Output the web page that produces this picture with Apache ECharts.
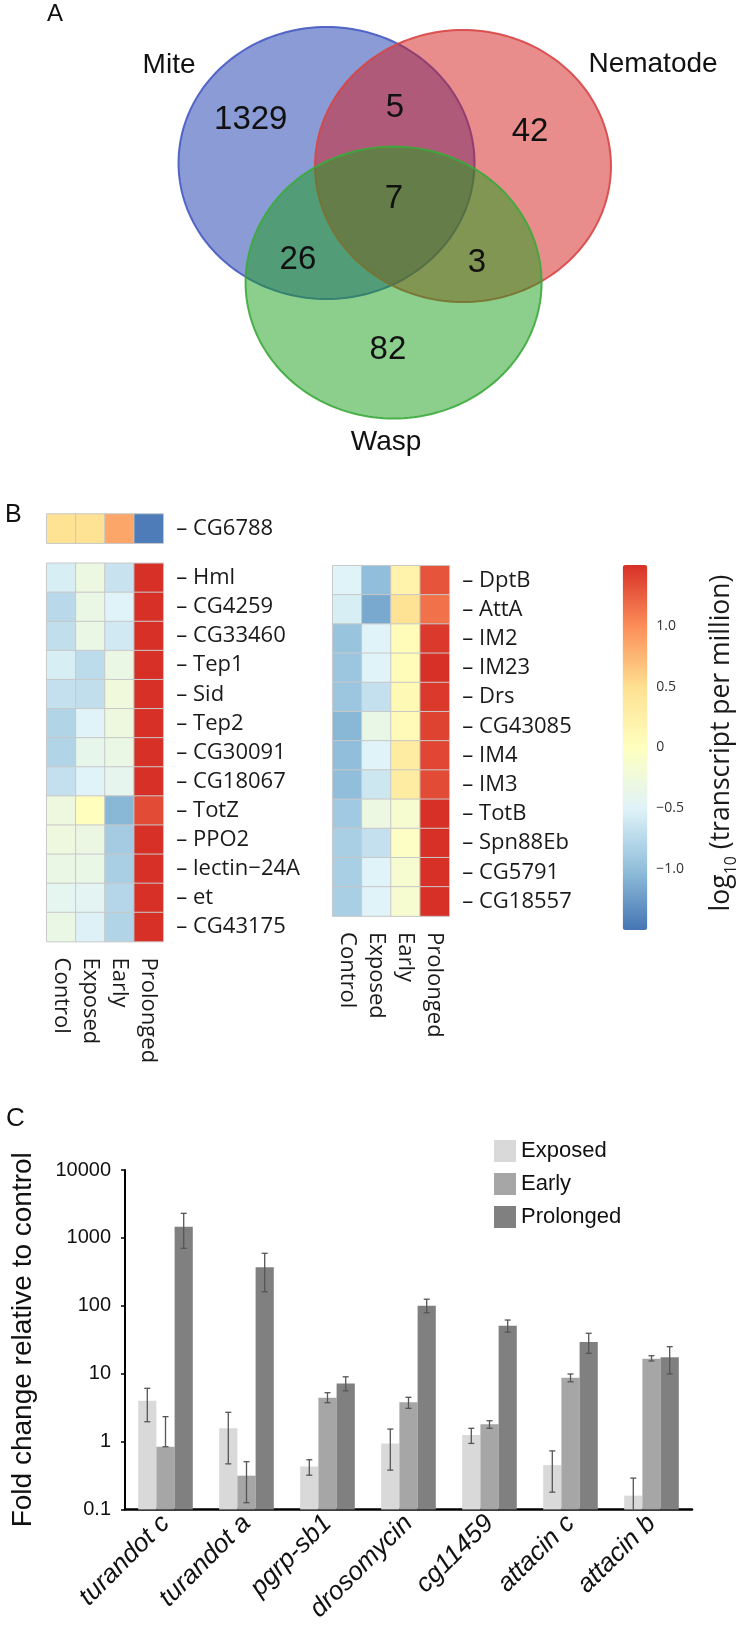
<!DOCTYPE html>
<html>
<head>
<meta charset="utf-8">
<script src="https://cdn.jsdelivr.net/npm/echarts@6/dist/echarts.min.js"></script>
<style>html,body{margin:0;padding:0;background:#fff}#c{width:745px;height:1633px}</style>
</head>
<body>
<div id="c"></div>
<script>
// ---------- Panel A data ----------
const vennSets = ['Mite', 'Nematode', 'Wasp'];
const vennRegionNames = ['Mite only', 'Mite & Nematode', 'Nematode only', 'All three', 'Mite & Wasp', 'Nematode & Wasp', 'Wasp only'];
const vennRegionCounts = [1329, 5, 42, 7, 26, 3, 82];
// layout geometry (abstract units, radius = 1)
const vennCenters = [[-0.461, 0.272], [0.461, 0.25], [-0.008, -0.607]];
const vennRegionPos = [[-0.973, 0.588], [0.002, 0.676], [0.914, 0.5], [-0.005, 0.007], [-0.654, -0.441], [0.556, -0.463], [-0.046, -1.103]];
const vennSetLabelPos = [[-1.525, 0.993], [1.745, 1.0], [-0.059, -1.78]];

// ---------- Panel B data ----------
const hmCols = ['Control', 'Exposed', 'Early', 'Prolonged'];
const topGenes = ['CG6788'];
const topVals = [[0.45, 0.45, 0.85, -1.45]];
const leftGenes = ['Hml', 'CG4259', 'CG33460', 'Tep1', 'Sid', 'Tep2', 'CG30091', 'CG18067', 'TotZ', 'PPO2', 'lectin\u221224A', 'et', 'CG43175'];
const leftVals = [
  [-0.55, -0.3, -0.65, 1.5],
  [-0.75, -0.33, -0.5, 1.5],
  [-0.7, -0.33, -0.6, 1.5],
  [-0.55, -0.72, -0.33, 1.5],
  [-0.68, -0.7, -0.25, 1.5],
  [-0.8, -0.5, -0.28, 1.5],
  [-0.8, -0.38, -0.33, 1.5],
  [-0.68, -0.5, -0.4, 1.5],
  [-0.28, 0.02, -1.05, 1.35],
  [-0.28, -0.32, -0.88, 1.5],
  [-0.33, -0.35, -0.85, 1.5],
  [-0.42, -0.45, -0.78, 1.5],
  [-0.33, -0.52, -0.8, 1.5]
];
const rightGenes = ['DptB', 'AttA', 'IM2', 'IM23', 'Drs', 'CG43085', 'IM4', 'IM3', 'TotB', 'Spn88Eb', 'CG5791', 'CG18557'];
const rightVals = [
  [-0.5, -1.0, 0.2, 1.3],
  [-0.55, -1.15, 0.45, 1.15],
  [-0.95, -0.5, 0.05, 1.45],
  [-0.93, -0.5, 0.07, 1.5],
  [-0.93, -0.68, 0.1, 1.45],
  [-1.05, -0.35, 0.08, 1.4],
  [-1.0, -0.5, 0.3, 1.38],
  [-1.0, -0.62, 0.3, 1.35],
  [-0.9, -0.3, -0.15, 1.5],
  [-0.85, -0.68, -0.05, 1.5],
  [-0.85, -0.5, -0.15, 1.5],
  [-0.85, -0.5, -0.15, 1.5]
];
const colorbarMin = -1.5, colorbarMax = 1.5, colorbarStep = 0.5;

// ---------- Panel C data ----------
const genesC = ['turandot c', 'turandot a', 'pgrp-sb1', 'drosomycin', 'cg11459', 'attacin c', 'attacin b'];
const seriesNames = ['Exposed', 'Early', 'Prolonged'];
const exposed = [4.0, 1.57, 0.43, 0.94, 1.25, 0.45, 0.16];
const exposedLo = [1.96, 0.47, 0.32, 0.38, 0.94, 0.18, 0.05];
const exposedHi = [6.1, 2.7, 0.54, 1.53, 1.57, 0.73, 0.29];
const early = [0.84, 0.315, 4.42, 3.79, 1.8, 8.7, 16.6];
const earlyLo = [0.84, 0.126, 3.74, 3.09, 1.57, 7.6, 15.4];
const earlyHi = [2.33, 0.506, 5.25, 4.49, 2.03, 9.9, 18.4];
const prolonged = [1460, 369, 7.2, 100, 51, 29.3, 17.5];
const prolongedLo = [703, 161, 5.6, 79, 41, 20, 9.9];
const prolongedHi = [2300, 593, 9.0, 125, 61.7, 39.4, 25];
const yTickMin = 0.1, yTickMax = 10000;
const yTitle = 'Fold change relative to control';

// ---------- styles ----------
const vennFill = ['rgba(21,55,173,0.5)', 'rgba(209,25,25,0.5)', 'rgba(25,159,25,0.5)'];
const vennStroke = ['rgba(70,90,195,0.9)', 'rgba(215,70,70,0.9)', 'rgba(60,170,60,0.9)'];
const rdylbu = ['#4575b4', '#91bfdb', '#e0f3f8', '#ffffbf', '#fee090', '#fc8d59', '#d73027'];
const barColors = ['#d9d9d9', '#a6a6a6', '#808080'];
const sansA = 'Liberation Sans';
const sansB = 'Open Sans';
const BAR_W = 18.2;
const HM_FONT = 22;

function toCells(vals) {
  const out = [];
  vals.forEach((row, r) => row.forEach((v, c) => out.push([c, r, v])));
  return out;
}
const fmtLog = v => String(+(+v).toPrecision(6));
const fmtCb = v => { const a = Math.round(v * 10) / 10; return a === 0 ? '0' : (a < 0 ? '\u2212' : '') + Math.abs(a).toFixed(1); };

const chart = echarts.init(document.getElementById('c'), null, { renderer: 'canvas' });

function hmYAxis(gi, data) {
  return {
    gridIndex: gi, type: 'category', data: data, inverse: true, position: 'right',
    axisLine: { show: false }, axisTick: { show: false },
    axisLabel: { show: true, margin: 13, align: 'left', fontFamily: sansB, fontSize: HM_FONT, color: '#1a1a1a', formatter: v => '\u2013 ' + v }
  };
}
function hmXAxis(gi, showLabels) {
  return {
    gridIndex: gi, type: 'category', data: hmCols, position: 'bottom',
    axisLine: { show: false }, axisTick: { show: false },
    axisLabel: { show: showLabels, rotate: -90, margin: 16, fontFamily: sansB, fontSize: HM_FONT, color: '#1a1a1a', interval: 0 }
  };
}

const errSets = [[exposedLo, exposedHi], [earlyLo, earlyHi], [prolongedLo, prolongedHi]];
const errSeries = errSets.map((pair, k) => ({
  type: 'custom', xAxisIndex: 5, yAxisIndex: 5, silent: true, z: 5,
  data: genesC.map((g, i) => [i, pair[0][i], pair[1][i]]),
  renderItem: function (params, api) {
    const i = api.value(0);
    const lo = Math.max(api.value(1), yTickMin), hi = api.value(2);
    const pHi = api.coord([i, hi]);
    const pLo = api.coord([i, lo]);
    const x = pHi[0] + (k - 1) * BAR_W;
    const st = { stroke: '#555', lineWidth: 1.3 };
    const ch = [
      { type: 'line', shape: { x1: x, y1: pHi[1], x2: x, y2: pLo[1] }, style: st },
      { type: 'line', shape: { x1: x - 3, y1: pHi[1], x2: x + 3, y2: pHi[1] }, style: st }
    ];
    if (api.value(1) > yTickMin) ch.push({ type: 'line', shape: { x1: x - 3, y1: pLo[1], x2: x + 3, y2: pLo[1] }, style: st });
    return { type: 'group', children: ch };
  }
}));

const option = {
  animation: false,
  backgroundColor: '#fff',
  graphic: [
    { type: 'text', left: 47, top: 2, style: { text: 'A', font: '24px "' + sansA + '"', fill: '#111' } },
    { type: 'text', left: 5, top: 503, style: { text: 'B', font: '25px "' + sansA + '"', fill: '#111' } },
    { type: 'text', left: 6, top: 1106, style: { text: 'C', font: '26px "' + sansA + '"', fill: '#111' } },
    {
      type: 'text', x: 721, y: 743, rotation: Math.PI / 2,
      style: {
        text: '{a|log}{s|10}{a| (transcript per million)}', align: 'center', verticalAlign: 'middle',
        rich: {
          a: { fontFamily: sansB, fontSize: 26.5, fill: '#1a1a1a', lineHeight: 36, verticalAlign: 'middle' },
          s: { fontFamily: sansB, fontSize: 16, fill: '#1a1a1a', lineHeight: 36, verticalAlign: 'bottom', padding: [13, 0, 0, 0] }
        }
      }
    }
  ],
  grid: [
    { left: 24.75, top: -4, width: 740, height: 476, outerBoundsMode: 'none' },
    { left: 46.7, top: 514, width: 116.6, height: 29.2, outerBoundsMode: 'none' },
    { left: 46.7, top: 563.3, width: 116.6, height: 378.3, outerBoundsMode: 'none' },
    { left: 332.7, top: 565.7, width: 116.6, height: 350.4, outerBoundsMode: 'none' },
    { left: 622.7, top: 565, width: 24.6, height: 365, outerBoundsMode: 'none' },
    { left: 125, top: 1170, width: 567, height: 339.5, outerBoundsMode: 'none' }
  ],
  xAxis: [
    { gridIndex: 0, type: 'value', min: -2.5, max: 2.5, show: false },
    hmXAxis(1, false),
    hmXAxis(2, true),
    hmXAxis(3, true),
    { gridIndex: 4, type: 'value', min: 0, max: 1, show: false },
    {
      gridIndex: 5, type: 'category', data: genesC,
      axisLine: { show: true, lineStyle: { color: '#000', width: 2.5 } }, axisTick: { show: false },
      axisLabel: { interval: 0, rotate: 45, margin: 10, fontFamily: sansA, fontStyle: 'italic', fontSize: 26, color: '#111' }
    }
  ],
  yAxis: [
    { gridIndex: 0, type: 'value', min: -2, max: 1.5, show: false },
    hmYAxis(1, topGenes),
    hmYAxis(2, leftGenes),
    hmYAxis(3, rightGenes),
    {
      gridIndex: 4, type: 'value', min: colorbarMin, max: colorbarMax, interval: colorbarStep, position: 'right',
      axisLine: { show: false }, axisTick: { show: false }, splitLine: { show: false },
      axisLabel: { margin: 9, showMinLabel: false, showMaxLabel: false, fontFamily: sansB, fontSize: 14, color: '#333', formatter: fmtCb }
    },
    {
      gridIndex: 5, type: 'log', logBase: 10, min: yTickMin, max: yTickMax, startValue: yTickMin,
      name: yTitle, nameLocation: 'middle', nameGap: 88, nameRotate: 90,
      nameTextStyle: { fontFamily: sansA, fontSize: 28, color: '#111' },
      axisLine: { show: true, lineStyle: { color: '#000', width: 2 } },
      axisTick: { show: true, length: 4, lineStyle: { color: '#000', width: 1.5 } },
      splitLine: { show: false },
      axisLabel: { margin: 14, fontFamily: sansA, fontSize: 20, color: '#111', formatter: fmtLog }
    }
  ],
  visualMap: {
    type: 'continuous', min: colorbarMin, max: colorbarMax, seriesIndex: [2, 3, 4],
    orient: 'vertical', left: 622.7, top: 565, itemWidth: 24.6, itemHeight: 365, padding: 0,
    calculable: false, realtime: false, showLabel: false, text: null,
    inRange: { color: rdylbu }
  },
  legend: {
    data: seriesNames, orient: 'vertical', left: 494, top: 1140, padding: 0,
    itemWidth: 22, itemHeight: 22, itemGap: 11, icon: 'rect', selectedMode: false,
    textStyle: { fontFamily: sansA, fontSize: 22, color: '#111' }
  },
  series: [
    {
      type: 'custom', xAxisIndex: 0, yAxisIndex: 0, silent: true,
      data: vennSets.map((s, i) => [vennCenters[i][0], vennCenters[i][1], i]),
      renderItem: function (params, api) {
        const cx = api.value(0), cy = api.value(1), i = api.value(2);
        const pts = [];
        for (let t = 0; t < 180; t++) {
          const a = t / 180 * Math.PI * 2;
          pts.push(api.coord([cx + Math.cos(a), cy + Math.sin(a)]));
        }
        return { type: 'polygon', shape: { points: pts }, style: { fill: vennFill[i], stroke: vennStroke[i], lineWidth: 2 } };
      }
    },
    {
      type: 'custom', xAxisIndex: 0, yAxisIndex: 0, silent: true, z: 4,
      data: vennRegionCounts.map((v, i) => [vennRegionPos[i][0], vennRegionPos[i][1], v, 0, i])
        .concat(vennSets.map((s, i) => [vennSetLabelPos[i][0], vennSetLabelPos[i][1], 0, 1, i])),
      renderItem: function (params, api) {
        const p = api.coord([api.value(0), api.value(1)]);
        const isSet = api.value(3) === 1;
        const txt = isSet ? vennSets[api.value(4)] : String(api.value(2));
        return {
          type: 'text', x: p[0], y: p[1],
          style: { text: txt, fontFamily: sansA, fontSize: isSet ? 28 : 33, fill: '#111', align: 'center', verticalAlign: 'middle' }
        };
      }
    },
    {
      type: 'heatmap', xAxisIndex: 1, yAxisIndex: 1, data: toCells(topVals),
      itemStyle: { borderColor: '#c8c8c8', borderWidth: 1 }, emphasis: { disabled: true }
    },
    {
      type: 'heatmap', xAxisIndex: 2, yAxisIndex: 2, data: toCells(leftVals),
      itemStyle: { borderColor: '#c8c8c8', borderWidth: 1 }, emphasis: { disabled: true }
    },
    {
      type: 'heatmap', xAxisIndex: 3, yAxisIndex: 3, data: toCells(rightVals),
      itemStyle: { borderColor: '#c8c8c8', borderWidth: 1 }, emphasis: { disabled: true }
    },
    { type: 'scatter', xAxisIndex: 4, yAxisIndex: 4, data: [], silent: true },
    { name: 'Exposed', type: 'bar', xAxisIndex: 5, yAxisIndex: 5, data: exposed, barWidth: BAR_W, barGap: '0%', itemStyle: { color: barColors[0] } },
    { name: 'Early', type: 'bar', xAxisIndex: 5, yAxisIndex: 5, data: early, barWidth: BAR_W, barGap: '0%', itemStyle: { color: barColors[1] } },
    { name: 'Prolonged', type: 'bar', xAxisIndex: 5, yAxisIndex: 5, data: prolonged, barWidth: BAR_W, barGap: '0%', itemStyle: { color: barColors[2] } }
  ].concat(errSeries)
};
chart.setOption(option);
</script>
</body>
</html>
